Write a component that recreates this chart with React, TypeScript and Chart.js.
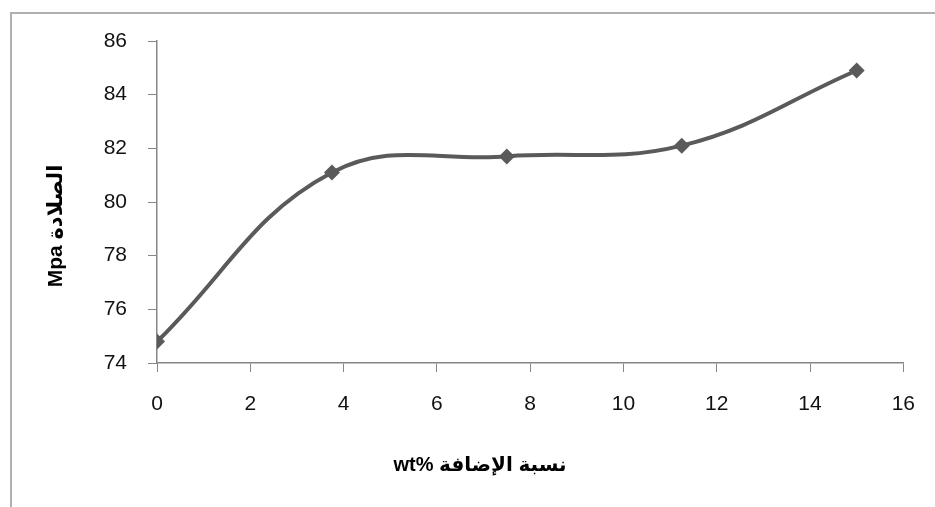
import React, { useEffect, useRef } from "react";
import { Chart, registerables } from "chart.js";

Chart.register(...registerables);

const additionPct = [0, 3.75, 7.5, 11.25, 15];
const hardnessMpa = [74.8, 81.1, 81.7, 82.1, 84.9];
const xTitle = "wt% نسبة الإضافة";
const yTitle = "Mpa الصلادة";

const titlePlugin = {
  id: "axisTitles",
  afterDraw(chart: any) {
    const ctx = chart.ctx;
    ctx.save();
    ctx.fillStyle = "#000";
    ctx.font = 'bold 20px "Liberation Sans", "DejaVu Sans", sans-serif';
    ctx.textAlign = "center";
    ctx.textBaseline = "middle";
    ctx.direction = "ltr";
    ctx.fillText(xTitle, 480, 465);
    ctx.font = 'bold 21px "Liberation Sans", "DejaVu Sans", sans-serif';
    ctx.translate(56, 226);
    ctx.rotate(-Math.PI / 2);
    ctx.fillText(yTitle, 0, 0);
    ctx.restore();
  },
};

export default function App() {
  const ref = useRef<HTMLCanvasElement>(null);
  useEffect(() => {
    document.body.style.overflow = "hidden";
    const tickFont = { family: '"Liberation Sans", Arial, sans-serif', size: 21 };
    const chart = new Chart(ref.current!, {
      type: "line",
      data: {
        datasets: [
          {
            data: additionPct.map((x, i) => ({ x, y: hardnessMpa[i] })),
            borderColor: "#5a5a5a",
            backgroundColor: "#5a5a5a",
            borderWidth: 4,
            tension: 0.4,
            pointStyle: "rectRot",
            pointRadius: 8,
            pointBorderWidth: 0,
            fill: false,
          },
        ],
      },
      options: {
        responsive: false,
        animation: false,
        layout: { padding: { left: 0, top: 41, right: 28, bottom: 0 } },
        plugins: { legend: { display: false }, tooltip: { enabled: false } },
        scales: {
          x: {
            type: "linear",
            min: 0,
            max: 16,
            ticks: { stepSize: 2, font: tickFont, color: "#111", padding: 20 },
            grid: { drawOnChartArea: false, drawTicks: true, tickLength: 9, color: "#868686" },
            border: { color: "#868686", width: 1.5 },
            afterFit: (s: any) => {
              s.height = 144;
            },
          },
          y: {
            min: 74,
            max: 86,
            ticks: { stepSize: 2, font: tickFont, color: "#111", padding: 21 },
            grid: { drawOnChartArea: false, drawTicks: true, tickLength: 9, color: "#868686" },
            border: { color: "#868686", width: 1.5 },
            afterFit: (s: any) => {
              s.width = 157;
            },
          },
        },
      },
      plugins: [titlePlugin],
    });
    return () => chart.destroy();
  }, []);
  return (
    <div style={{ position: "fixed", left: 0, top: 0, width: 935, height: 507, background: "#fff", overflow: "hidden" }}>
      <div
        style={{
          position: "absolute",
          left: 10,
          top: 12,
          width: 2000,
          height: 2000,
          borderTop: "2px solid #b0b0b0",
          borderLeft: "2px solid #b0b0b0",
        }}
      />
      <canvas ref={ref} width={935} height={507} style={{ position: "absolute", left: 0, top: 0 }} />
    </div>
  );
}
